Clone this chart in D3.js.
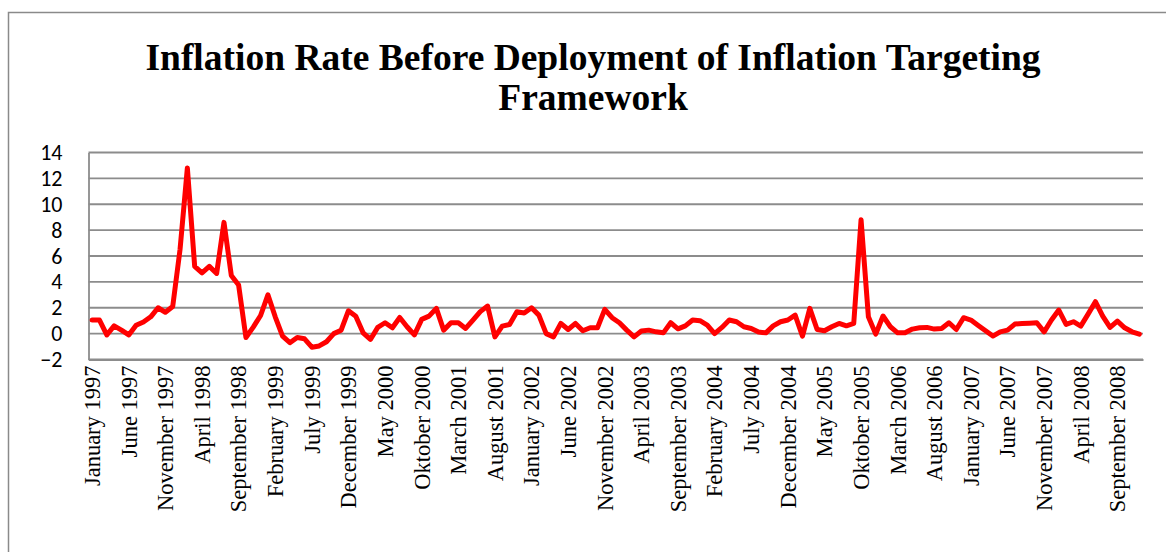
<!DOCTYPE html>
<html>
<head>
<meta charset="utf-8">
<script src="https://cdn.jsdelivr.net/npm/d3@7"></script>
<style>
  html, body { margin: 0; padding: 0; background: #fff; }
  svg { display: block; }
</style>
</head>
<body>
<svg id="chart" width="1166" height="552"></svg>
<script>
// Monthly inflation rate (%), January 1997 – December 2008
const months = ["January","February","March","April","May","June","July","August","September","Oktober","November","December"];
const startYear = 1997;
const inflation = [
  // 1997
  1.05, 1.05, -0.1, 0.6, 0.27, -0.1, 0.65, 0.9, 1.3, 2.0, 1.65, 2.1,
  // 1998
  6.5, 12.8, 5.2, 4.7, 5.2, 4.65, 8.6, 4.5, 3.75, -0.3, 0.5, 1.4,
  // 1999
  3.0, 1.3, -0.2, -0.7, -0.3, -0.4, -1.05, -0.95, -0.63, 0.0, 0.27, 1.77,
  // 2000
  1.35, 0.06, -0.45, 0.48, 0.84, 0.45, 1.25, 0.53, -0.1, 1.1, 1.35, 1.95,
  // 2001
  0.27, 0.84, 0.84, 0.4, 1.05, 1.7, 2.13, -0.25, 0.58, 0.71, 1.69, 1.6,
  // 2002
  2.0, 1.43, 0.0, -0.25, 0.79, 0.32, 0.79, 0.22, 0.45, 0.45, 1.87, 1.23,
  // 2003
  0.84, 0.27, -0.25, 0.2, 0.27, 0.14, 0.06, 0.84, 0.37, 0.6, 1.05, 1.0,
  // 2004
  0.66, 0.0, 0.48, 1.05, 0.92, 0.53, 0.4, 0.12, 0.06, 0.6, 0.92, 1.05,
  // 2005
  1.43, -0.2, 1.95, 0.32, 0.22, 0.53, 0.79, 0.6, 0.79, 8.8, 1.3, -0.04,
  // 2006
  1.36, 0.53, 0.06, 0.06, 0.35, 0.45, 0.48, 0.35, 0.4, 0.84, 0.32, 1.23,
  // 2007
  1.05, 0.63, 0.22, -0.19, 0.14, 0.27, 0.74, 0.79, 0.81, 0.84, 0.14, 1.05,
  // 2008
  1.82, 0.71, 0.92, 0.58, 1.51, 2.47, 1.36, 0.48, 0.97, 0.45, 0.14, -0.04
];
const yTicks = [-2, 0, 2, 4, 6, 8, 10, 12, 14];
const titleLines = ["Inflation Rate Before Deployment of Inflation Targeting", "Framework"];

const categories = inflation.map((_, i) => `${months[i % 12]} ${startYear + Math.floor(i / 12)}`);
const labelEvery = 5;

const svg = d3.select("#chart");
const W = 1166, H = 552;
const plot = { left: 88.5, right: 1143, top: 152.5, bottom: 359.5 };

// chart frame
svg.append("rect")
  .attr("x", 8.5).attr("y", 12.5)
  .attr("width", W + 20).attr("height", H + 20)
  .attr("fill", "#fff").attr("stroke", "#8a8a8a").attr("stroke-width", 1.5);

// title
svg.append("text")
  .attr("x", 593).attr("y", 70)
  .attr("text-anchor", "middle")
  .style("font-family", "'Liberation Serif', 'Times New Roman', serif")
  .style("font-weight", "bold")
  .style("font-size", "37.5px")
  .selectAll("tspan").data(titleLines).join("tspan")
  .attr("x", 593).attr("dy", (d, i) => i === 0 ? 0 : 40)
  .text(d => d);

const x = d3.scaleBand().domain(categories).range([plot.left, plot.right]).paddingInner(0).paddingOuter(0);
const y = d3.scaleLinear().domain([-2, 14]).range([plot.bottom, plot.top]);

// horizontal gridlines
svg.append("g")
  .selectAll("line").data(yTicks).join("line")
  .attr("x1", plot.left).attr("x2", plot.right)
  .attr("y1", d => y(d)).attr("y2", d => y(d))
  .attr("stroke", "#8c8c8c").attr("stroke-width", 1.8);

// y axis
const yAxis = svg.append("g")
  .attr("transform", `translate(${plot.left},0)`)
  .call(d3.axisLeft(y).tickValues(yTicks).tickSize(0).tickPadding(26).tickFormat(d3.format("d")));
yAxis.select(".domain").attr("stroke", "#8c8c8c").attr("stroke-width", 1.8);
yAxis.selectAll("text")
  .style("font-family", "Carlito, Lato, 'Liberation Sans', sans-serif")
  .style("font-size", "22px")
  .attr("fill", "#000");

// x axis at the bottom of the plot
const xAxis = svg.append("g")
  .attr("transform", `translate(0,${plot.bottom})`)
  .call(d3.axisBottom(x)
    .tickValues(categories.filter((_, i) => i % labelEvery === 0))
    .tickSize(0));
xAxis.select(".domain").attr("stroke", "#8c8c8c").attr("stroke-width", 1.8);
xAxis.selectAll("text")
  .attr("transform", "rotate(-90)")
  .attr("x", -6).attr("y", 0).attr("dy", "0.35em")
  .attr("text-anchor", "end")
  .attr("fill", "#000")
  .style("font-family", "'Liberation Serif', 'Times New Roman', serif")
  .style("font-size", "22.5px");

// inflation line
const line = d3.line()
  .x((d, i) => x(categories[i]) + x.bandwidth() / 2)
  .y(d => y(d));

svg.append("path")
  .datum(inflation)
  .attr("d", line)
  .attr("fill", "none")
  .attr("stroke", "#ff0000")
  .attr("stroke-width", 5)
  .attr("stroke-linejoin", "round")
  .attr("stroke-linecap", "round");
</script>
</body>
</html>
